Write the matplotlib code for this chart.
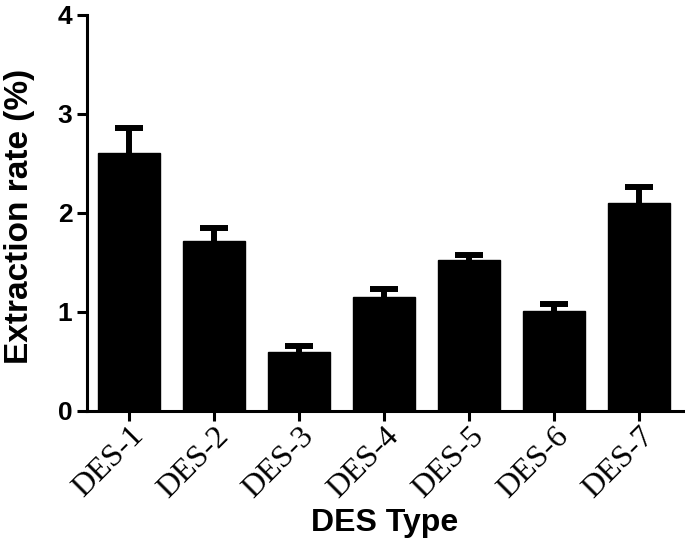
import numpy as np
import matplotlib
matplotlib.use('Agg')
import matplotlib.pyplot as plt

# Data
categories = ['DES-1', 'DES-2', 'DES-3', 'DES-4', 'DES-5', 'DES-6', 'DES-7']
rates = [2.60, 1.72, 0.60, 1.15, 1.52, 1.01, 2.10]
errors = [0.26, 0.13, 0.06, 0.08, 0.06, 0.07, 0.16]
y_ticks = [0, 1, 2, 3, 4]

fig = plt.figure(figsize=(6.85, 5.39), dpi=100)
ax = fig.add_axes([0.127, 0.2375, 0.870, 0.735])

x = np.arange(len(categories))
ax.bar(x, rates, width=0.73, color='black', edgecolor='black', zorder=2)
# upper error bars only
eb = ax.errorbar(x, rates, yerr=[np.zeros(len(errors)), errors], fmt='none',
                 ecolor='black', elinewidth=4.3, capsize=10, capthick=4.3, zorder=1)
eb[1][0].set_visible(False)

ax.set_xlim(-0.494, 6.52)
ax.set_ylim(0, 4)
ax.set_yticks(y_ticks)
ax.set_yticklabels([str(t) for t in y_ticks], fontfamily='Liberation Sans',
                   fontweight='bold', fontsize=19)
ax.set_xticks(x)
ax.set_xticklabels(categories, fontfamily='Liberation Serif', fontsize=23,
                   rotation=45, ha='right', va='top', rotation_mode='anchor')

for side in ['top', 'right']:
    ax.spines[side].set_visible(False)
for side in ['left', 'bottom']:
    ax.spines[side].set_linewidth(2.2)
ax.tick_params(axis='both', width=2.2, length=7.5, direction='out')
ax.tick_params(axis='x', pad=0)
ax.tick_params(axis='y', pad=3)

ax.set_ylabel('Extraction rate (%)', fontfamily='Liberation Sans',
              fontweight='bold', fontsize=24)
ax.yaxis.set_label_coords(-0.088, 0.49)
ax.set_xlabel('DES Type', fontfamily='Liberation Sans', fontweight='bold',
              fontsize=23)
ax.xaxis.set_label_coords(0.5, -0.245)

fig.savefig('out.png', dpi=100)
